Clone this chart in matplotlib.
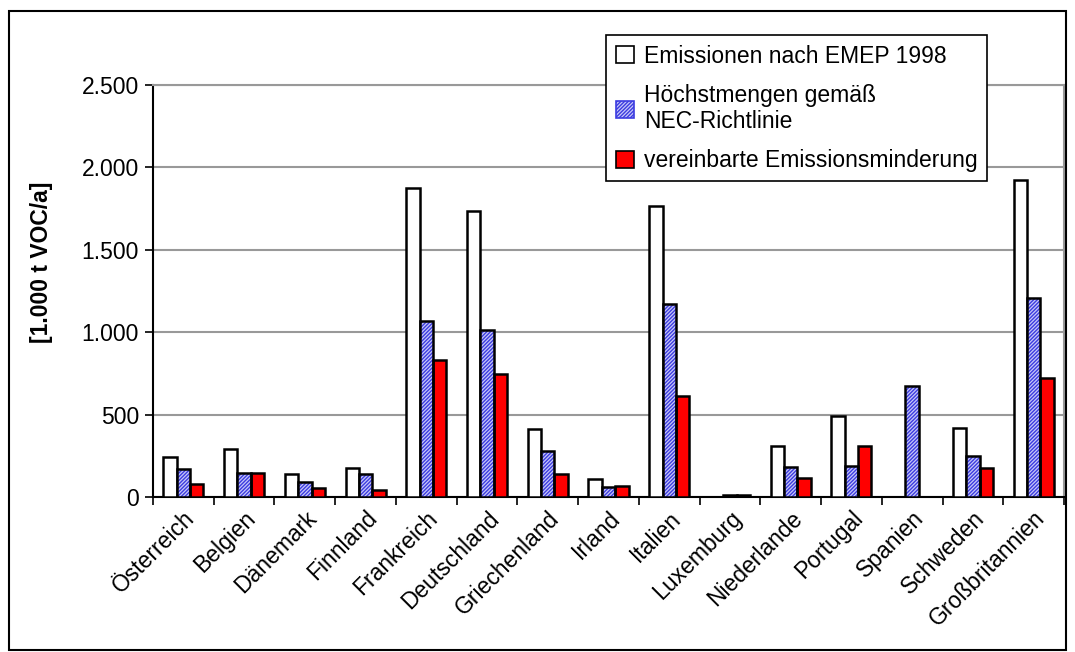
import matplotlib
matplotlib.use("Agg")
import matplotlib.pyplot as plt
import numpy as np
from matplotlib.patches import Rectangle, Patch
from matplotlib.ticker import FuncFormatter

plt.rcParams['font.family'] = ['Liberation Sans', 'DejaVu Sans']

categories = ["Österreich", "Belgien", "Dänemark", "Finnland", "Frankreich",
              "Deutschland", "Griechenland", "Irland", "Italien", "Luxemburg",
              "Niederlande", "Portugal", "Spanien", "Schweden", "Großbritannien"]
emep_1998 = [241, 291, 140, 175, 1872, 1738, 415, 110, 1765, np.nan, 311, 490, np.nan, 421, 1925]
nec_ceiling = [170, 146, 90, 140, 1069, 1012, 282, 60, 1170, 15, 185, 189, 673, 250, 1205]
agreed_reduction = [80, 146, 55, 40, 829, 744, 140, 65, 615, 15, 115, 311, np.nan, 179, 725]
yticks = [0, 500, 1000, 1500, 2000, 2500]
legend_labels = ["Emissionen nach EMEP 1998", "Höchstmengen gemäß\nNEC-Richtlinie",
                 "vereinbarte Emissionsminderung"]

W, H = 1075, 652
fig = plt.figure(figsize=(W / 100, H / 100), dpi=100)
ax = fig.add_axes([153 / W, 1 - 497 / H, (1064 - 153) / W, (497 - 85) / H])

x = np.arange(len(categories))
bw = 0.22
fs = 16.5

# white bars
ax.bar(x - bw, emep_1998, bw, facecolor='white', edgecolor='black', linewidth=1.8, zorder=3)
# hatched blue bars: hatch layer, then outline
ax.bar(x, nec_ceiling, bw, facecolor='#c8c8f8', edgecolor='#3c3ce0', hatch='/////////',
       linewidth=0, zorder=3)
ax.bar(x, nec_ceiling, bw, fill=False, edgecolor='black', linewidth=1.8, zorder=4)
# red bars
red_colors = ['#ff0000'] * len(categories)
red_colors[categories.index("Luxemburg")] = '#00a000'
ax.bar(x + bw, agreed_reduction, bw, color=red_colors, edgecolor='black', linewidth=1.8, zorder=3)

ax.set_xlim(-0.5, len(categories) - 0.5)
ax.set_ylim(0, 2500)
ax.set_yticks(yticks)
ax.yaxis.set_major_formatter(FuncFormatter(lambda v, p: f"{int(v):,}".replace(",", ".")))
ax.grid(axis='y', color='#999999', linewidth=1.5, zorder=0)
ax.set_axisbelow(True)

ax.set_xticks(x)
ax.set_xticklabels(categories, rotation=45, ha='right', rotation_mode='anchor', fontsize=fs)
ax.tick_params(axis='x', length=0, pad=7)
ax.set_xticks(np.arange(len(categories) + 1) - 0.5, minor=True)
ax.tick_params(axis='x', which='minor', length=6, width=1.2, color='black', direction='out')
ax.tick_params(axis='y', labelsize=fs, length=6, width=1.2, direction='out', pad=4)

for s in ['top', 'right']:
    ax.spines[s].set_color('#999999')
    ax.spines[s].set_linewidth(1.5)
for s in ['left', 'bottom']:
    ax.spines[s].set_color('black')
    ax.spines[s].set_linewidth(1.5)

fig.text(42 / W, 1 - 262 / H, "[1.000 t VOC/a]", rotation=90, fontsize=fs,
         fontweight='bold', ha='center', va='center')

handles = [Patch(facecolor='white', edgecolor='black', linewidth=1.2),
           Patch(facecolor='#c8c8f8', edgecolor='#3c3ce0', hatch='/////////', linewidth=1.2),
           Patch(facecolor='#ff0000', edgecolor='black', linewidth=1.2)]
leg = fig.legend(handles, legend_labels, loc='upper left',
                 bbox_to_anchor=(595 / W, 1 - 24 / H), fontsize=fs, frameon=True,
                 fancybox=False, edgecolor='black', framealpha=1,
                 handlelength=0.8, handleheight=0.8, handletextpad=0.45,
                 labelspacing=0.7, borderpad=0.4)
leg.get_frame().set_linewidth(1.2)

# outer border
fig.patches.append(Rectangle((9 / W, 2 / H), (1066 - 9) / W, (650 - 11) / H,
                             transform=fig.transFigure, fill=False,
                             edgecolor='black', linewidth=1.5))

fig.savefig("out.png", dpi=100)
